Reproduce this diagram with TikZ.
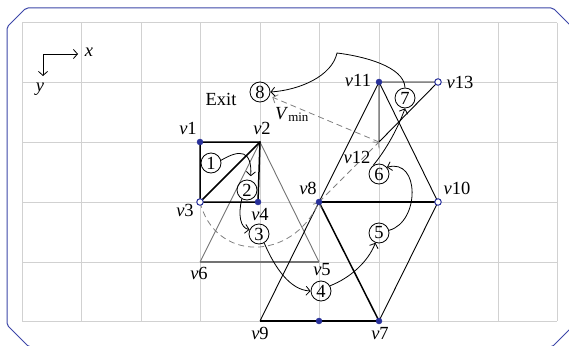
\documentclass[tikz,border=0pt]{standalone}
\usepackage{fontspec}
\setmainfont{Liberation Serif}
\usetikzlibrary{arrows.meta}
\definecolor{framecol}{HTML}{3C46A8}
\definecolor{vcol}{HTML}{28309A}
\begin{document}
\begin{tikzpicture}[x=1pt,y=-1pt,font=\fontsize{18.5}{20}\selectfont,
  gridline/.style={draw=black!18,line width=1pt},
  edge/.style={line width=0.9pt},
  thickedge/.style={line width=1.5pt},
  grayedge/.style={draw=black!55,line width=0.9pt},
  flow/.style={line width=0.8pt,-{Straight Barb[length=4pt,width=9pt]}},
  route/.style={draw=black!50,line width=0.8pt,dash pattern=on 6pt off 4pt,-{Straight Barb[length=4pt,width=9pt]}},
  num/.style={circle,draw,line width=0.8pt,minimum size=20pt,inner sep=0pt},
  vfill/.style={circle,fill=vcol,draw=vcol,minimum size=6pt,inner sep=0pt},
  vopen/.style={circle,fill=white,draw=vcol,line width=1pt,minimum size=6.5pt,inner sep=0pt},
  lab/.style={inner sep=1pt}]
\useasboundingbox (0,0) rectangle (569,345);
\begin{scope}
\clip (0,0) rectangle (569,345);
\draw[framecol,line width=1pt,rounded corners=2pt]
  (7,27) -- (26,8) -- (553,8) -- (573,28) -- (573,326) -- (552,347) -- (29,347) -- (7,325) -- cycle;
\end{scope}
% grid
\foreach \gx in {22,81,141,200,260,319,379,438,498,557}
  \draw[gridline] (\gx,23) -- (\gx,321);
\foreach \gy in {23,82,142,202,262,321}
  \draw[gridline] (22,\gy) -- (557,\gy);
% axes indicator
\coordinate (ao) at (43,54);
\coordinate (axx) at (78,54);
\coordinate (axy) at (43,76);
\draw[line width=0.8pt,-{Straight Barb[length=4pt,width=9pt]}] (ao) -- (axx);
\draw[line width=0.8pt,-{Straight Barb[length=4pt,width=9pt]}] (ao) -- (axy);
\node[lab] (lx) at (89,52) {\textit{x}};
\node[lab] (ly) at (40,89) {\textit{y}};
% vertices
\coordinate (v1) at (200,142);
\coordinate (v2) at (260,142);
\coordinate (v3) at (200,202);
\coordinate (v4) at (258,202);
\coordinate (v5) at (319,262);
\coordinate (v6) at (200,262);
\coordinate (v7) at (379,321);
\coordinate (v8) at (319,202);
\coordinate (v9) at (260,321);
\coordinate (v10) at (438,202);
\coordinate (v11) at (379,82);
\coordinate (v12) at (379,142);
\coordinate (v13) at (438,82);
\coordinate (vm) at (319,321);
% gray triangle
\draw[grayedge] (v6) -- (v2) -- (v5);
\draw[grayedge,line width=1.4pt] (v6) -- (v5);
% square
\draw[thickedge] (v1) -- (v2) -- (v4) -- (v3) -- cycle;
\draw[thickedge] (v3) -- (v2);
% lower structure
\draw[edge] (v9) -- (v8);
\draw[edge] (v7) -- (v10);
\draw[thickedge] (v8) -- (v7);
\draw[edge,line width=1.2pt] (v9) -- (v7);
\draw[thickedge,line width=1.8pt] (v8) -- (v10);
% upper structure
\draw[edge] (v8) -- (v11) -- (v10);
\draw[edge] (v11) -- (v12) -- (v13) -- (v11);
% circled numbers
\node[num] (n1) at (211,163) {1};
\node[num] (n2) at (247,190) {2};
\node[num] (n3) at (259,234) {3};
\node[num] (n4) at (321,291) {4};
\node[num] (n5) at (379,233) {5};
\node[num] (n6) at (379,174) {6};
\node[num] (n7) at (405,98) {7};
\node[num] (n8) at (260,92) {8};
% dashed route
\draw[route] (v3) .. controls (215,262) and (292,262) .. (v8);
\draw[route] (v8) -- (v12);
\draw[route,shorten >=3pt] (v12) -- (n8);
% flow arrows
\draw[flow,shorten >=4pt] (n1.15) .. controls (240,149) and (252,150) .. (n2.70);
\draw[flow] (n2.240) .. controls (238,214) and (240,228) .. (n3.155);
\draw[flow] (n3.300) .. controls (275,268) and (290,290) .. (n4.west);
\draw[flow] (n4.30) .. controls (350,278) and (368,262) .. (n5.250);
\draw[flow] (n5.15) .. controls (420,222) and (420,158) .. (n6.40);
\draw[flow] (n6.125) .. controls (386,150) and (398,128) .. (n7.south);
\coordinate (k78) at (337,53);
\draw[flow] (n7.north) .. controls (404,66) and (362,56) .. (k78) .. controls (332,76) and (300,90) .. (n8.east);
% vertex markers
\node[vfill] (m1) at (v1) {};
\node[vopen] (m3) at (v3) {};
\node[vfill] (m4) at (v4) {};
\node[vfill] (m8) at (v8) {};
\node[vopen] (m10) at (v10) {};
\node[vfill] (m11) at (v11) {};
\node[vopen] (m13) at (v13) {};
\node[vfill] (m7) at (v7) {};
\node[vfill] (mm) at (vm) {};
% labels
\node[lab] (l1) at (188,128) {\textit{v}1};
\node[lab] (l2) at (262,128) {\textit{v}2};
\node[lab] (l3) at (185,210) {\textit{v}3};
\node[lab] (l4) at (260,214) {\textit{v}4};
\node[lab] (l5) at (322,270) {\textit{v}5};
\node[lab] (l6) at (199,273) {\textit{v}6};
\node[lab] (l7) at (380,334) {\textit{v}7};
\node[lab] (l8) at (308,188) {\textit{v}8};
\node[lab] (l9) at (260,333) {\textit{v}9};
\node[lab] (l10) at (457,188) {\textit{v}10};
\node[lab] (l11) at (358,80) {\textit{v}11};
\node[lab] (l12) at (357,157) {\textit{v}12};
\node[lab] (l13) at (460,82) {\textit{v}13};
\node[lab] (lexit) at (221,99) {Exit};
\node[lab,anchor=base west] (lvmin) at (274,119) {\textit{V}\textsubscript{min}};
\end{tikzpicture}
\end{document}
